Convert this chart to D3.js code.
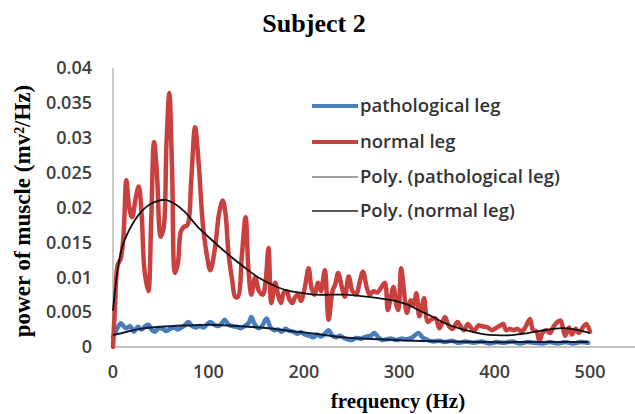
<!DOCTYPE html>
<html>
<head>
<meta charset="utf-8">
<script src="https://cdn.jsdelivr.net/npm/d3@7"></script>
<style>
  body { margin: 0; background: #fff; }
</style>
</head>
<body>
<div id="chart"></div>
<script>
// Frequency (Hz) and power of muscle for the normal leg
var normalFreq = [0, 2, 5, 8, 11, 14, 17, 20, 24, 27, 30, 33, 37, 40, 43, 46, 50, 53, 56, 59, 62, 65, 68, 71, 74, 78, 82, 86, 90, 94, 98, 102, 107, 111, 115, 118, 121, 125, 128, 131, 135, 139, 142, 145, 149, 153, 157, 160, 163, 166, 170, 173, 176, 179, 182, 185, 188, 191, 194, 197, 201, 205, 208, 211, 215, 218, 222, 226, 230, 233, 236, 240, 243, 247, 251, 255, 258, 262, 266, 269, 273, 277, 281, 285, 288, 291, 294, 297, 299, 302, 305, 308, 312, 315, 318, 321, 324, 326, 330, 334, 338, 342, 345, 348, 352, 356, 361, 365, 368, 372, 376, 379, 383, 386, 390, 393, 397, 401, 405, 409, 412, 416, 420, 424, 428, 432, 437, 440, 444, 447, 450, 454, 458, 462, 466, 469, 472, 474, 478, 481, 485, 488, 492, 496, 500];
var normalLeg = [0, 0.0055, 0.0118, 0.0126, 0.016, 0.0239, 0.02, 0.0186, 0.0215, 0.023, 0.019, 0.011, 0.008, 0.018, 0.0294, 0.025, 0.0158, 0.017, 0.029, 0.0364, 0.025, 0.0106, 0.012, 0.0165, 0.0172, 0.0175, 0.024, 0.0315, 0.026, 0.0178, 0.0135, 0.011, 0.0143, 0.019, 0.021, 0.019, 0.0135, 0.0095, 0.0072, 0.0072, 0.013, 0.0186, 0.011, 0.0075, 0.01, 0.008, 0.0075, 0.0095, 0.0142, 0.0063, 0.0092, 0.0075, 0.0063, 0.0078, 0.008, 0.0068, 0.0063, 0.0072, 0.0075, 0.0066, 0.0085, 0.0113, 0.0085, 0.0075, 0.0092, 0.008, 0.011, 0.0039, 0.008, 0.009, 0.0106, 0.0085, 0.0072, 0.0101, 0.008, 0.0075, 0.009, 0.0108, 0.0085, 0.0075, 0.008, 0.0078, 0.0085, 0.0092, 0.0053, 0.007, 0.0086, 0.006, 0.0053, 0.0113, 0.008, 0.0049, 0.0067, 0.006, 0.0077, 0.0044, 0.006, 0.007, 0.0036, 0.004, 0.0041, 0.0027, 0.0035, 0.0043, 0.003, 0.0026, 0.0036, 0.0028, 0.0024, 0.0033, 0.0026, 0.0024, 0.0031, 0.003, 0.0029, 0.0028, 0.0024, 0.0027, 0.003, 0.0033, 0.0024, 0.0026, 0.0024, 0.0026, 0.0022, 0.0028, 0.004, 0.0025, 0.0022, 0.0008, 0.002, 0.0024, 0.002, 0.003, 0.0036, 0.0038, 0.0025, 0.0016, 0.0028, 0.0018, 0.0026, 0.002, 0.0027, 0.0033, 0.0022];

// Frequency (Hz) and power of muscle for the pathological leg
var pathoFreq = [0, 2, 5, 8, 11, 14, 18, 22, 26, 30, 34, 37, 41, 44, 48, 52, 56, 60, 64, 68, 72, 76, 79, 83, 87, 91, 95, 99, 102, 106, 110, 114, 117, 121, 125, 130, 134, 138, 142, 145, 148, 152, 156, 161, 165, 169, 173, 177, 181, 185, 189, 193, 197, 201, 206, 210, 214, 218, 222, 226, 230, 234, 238, 242, 246, 250, 255, 260, 265, 270, 274, 278, 282, 287, 292, 297, 302, 308, 314, 320, 325, 330, 336, 342, 348, 355, 362, 370, 378, 386, 394, 402, 410, 418, 426, 434, 442, 450, 458, 466, 474, 482, 490, 498];
var pathoLeg = [0.0015, 0.002, 0.0028, 0.0034, 0.003, 0.0027, 0.003, 0.0022, 0.0029, 0.0025, 0.003, 0.0032, 0.0024, 0.0022, 0.0027, 0.0026, 0.0023, 0.0026, 0.0028, 0.0025, 0.0028, 0.0032, 0.0036, 0.003, 0.0028, 0.003, 0.0028, 0.0033, 0.0036, 0.0032, 0.003, 0.0034, 0.0039, 0.0032, 0.003, 0.0029, 0.0027, 0.003, 0.0034, 0.0043, 0.0034, 0.0027, 0.003, 0.0041, 0.0028, 0.0024, 0.0025, 0.0022, 0.0026, 0.0023, 0.0022, 0.0019, 0.0021, 0.0018, 0.0016, 0.0014, 0.0018, 0.0015, 0.0019, 0.0024, 0.0016, 0.0014, 0.0016, 0.0013, 0.0011, 0.001, 0.0013, 0.0012, 0.0015, 0.0016, 0.002, 0.0014, 0.001, 0.0011, 0.0012, 0.001, 0.0012, 0.0011, 0.0014, 0.002, 0.0013, 0.001, 0.0008, 0.0009, 0.0007, 0.0009, 0.0006, 0.0008, 0.0006, 0.0008, 0.0005, 0.0007, 0.0006, 0.0008, 0.0005, 0.0007, 0.0006, 0.0005, 0.0007, 0.0005, 0.0007, 0.0005, 0.0007, 0.0006];

// Polynomial trend lines
var polyNormalFreq = [0, 5, 10, 16, 22, 29, 36, 44, 55, 65, 75, 89, 100, 112, 124, 138, 152, 166, 180, 196, 212, 230, 245, 260, 278, 296, 310, 320, 334, 348, 362, 376, 390, 401, 418, 435, 452, 470, 485, 500];
var polyNormal = [0.0052, 0.0112, 0.0145, 0.0165, 0.018, 0.0193, 0.0202, 0.0208, 0.0211, 0.0205, 0.0194, 0.0172, 0.0158, 0.0143, 0.0129, 0.0114, 0.01, 0.009, 0.0082, 0.0078, 0.0075, 0.0075, 0.0075, 0.0073, 0.007, 0.0066, 0.006, 0.0053, 0.0044, 0.0034, 0.0027, 0.0022, 0.0018, 0.0017, 0.0017, 0.002, 0.0024, 0.0027, 0.0025, 0.002];
var polyPathoFreq = [0, 15, 29, 50, 79, 100, 121, 142, 163, 185, 205, 228, 250, 281, 315, 352, 390, 422, 460, 498];
var polyPatho = [0.0017, 0.0022, 0.0026, 0.0029, 0.0031, 0.0032, 0.0031, 0.0029, 0.0027, 0.0023, 0.002, 0.0016, 0.0013, 0.0011, 0.0009, 0.0008, 0.0007, 0.0007, 0.0007, 0.0007];

var xTicks = [0, 100, 200, 300, 400, 500];
var yTicks = [0, 0.005, 0.01, 0.015, 0.02, 0.025, 0.03, 0.035, 0.04];
var legendLabels = ["pathological leg", "normal leg", "Poly. (pathological leg)", "Poly. (normal leg)"];

var width = 635,
    height = 414;

var svg = d3.select("#chart")
  .append("svg")
    .attr("width", width)
    .attr("height", height);

// Scales
var x = d3.scaleLinear()
  .domain([0, 545])
  .range([113, 633]);
var y = d3.scaleLinear()
  .domain([0, 0.04])
  .range([347, 68]);

var serif = "Liberation Serif, Times New Roman, serif";
var sans = "Open Sans, Lato, sans-serif";

// Title
svg.append("text")
  .attr("x", 314)
  .attr("y", 32)
  .attr("text-anchor", "middle")
  .attr("font-family", serif)
  .attr("font-weight", "bold")
  .attr("font-size", "26px")
  .attr("fill", "#000")
  .text("Subject 2");

// Axis lines
svg.append("line")
  .attr("x1", x(0)).attr("x2", x(0))
  .attr("y1", y(0.04)).attr("y2", y(0))
  .attr("stroke", "#a6a6a6")
  .attr("stroke-width", 1.2);
svg.append("line")
  .attr("x1", x(0)).attr("x2", 635)
  .attr("y1", y(0)).attr("y2", y(0))
  .attr("stroke", "#b0b0b0")
  .attr("stroke-width", 1.6);

// Tick labels
svg.append("g")
  .selectAll("text")
  .data(yTicks)
  .enter()
  .append("text")
    .attr("x", 92)
    .attr("y", function(d) { return y(d); })
    .attr("dy", "0.35em")
    .attr("text-anchor", "end")
    .attr("font-family", sans)
    .attr("font-weight", 600)
    .attr("font-size", "18px")
    .attr("fill", "#404040")
    .text(function(d) { return d; });

svg.append("g")
  .selectAll("text")
  .data(xTicks)
  .enter()
  .append("text")
    .attr("x", function(d) { return x(d); })
    .attr("y", 378)
    .attr("text-anchor", "middle")
    .attr("font-family", sans)
    .attr("font-weight", 600)
    .attr("font-size", "18px")
    .attr("fill", "#404040")
    .text(function(d) { return d; });

// Axis titles
svg.append("text")
  .attr("transform", "translate(30,211) rotate(-90)")
  .attr("text-anchor", "middle")
  .attr("font-family", serif)
  .attr("font-weight", "bold")
  .attr("font-size", "23px")
  .attr("fill", "#000")
  .text("power of muscle (mv²/Hz)");

svg.append("text")
  .attr("x", 398)
  .attr("y", 408)
  .attr("text-anchor", "middle")
  .attr("font-family", serif)
  .attr("font-weight", "bold")
  .attr("font-size", "21px")
  .attr("fill", "#000")
  .text("frequency (Hz)");

// Line generator
function pts(fs, vs) {
  return fs.map(function(f, i) { return [f, vs[i]]; });
}
var line = d3.line()
  .x(function(d) { return x(d[0]); })
  .y(function(d) { return y(d[1]); })
  .curve(d3.curveCatmullRom.alpha(0.5));

// Data series
svg.append("path")
  .attr("d", line(pts(pathoFreq, pathoLeg)))
  .attr("fill", "none")
  .attr("stroke", "#4a7ebb")
  .attr("stroke-width", 4.5)
  .attr("stroke-linejoin", "round")
  .attr("stroke-linecap", "round");

svg.append("path")
  .attr("d", line(pts(normalFreq, normalLeg)))
  .attr("fill", "none")
  .attr("stroke", "#c9413f")
  .attr("stroke-width", 4.5)
  .attr("stroke-linejoin", "round")
  .attr("stroke-linecap", "round");

// Trend lines
svg.append("path")
  .attr("d", line(pts(polyPathoFreq, polyPatho)))
  .attr("fill", "none")
  .attr("stroke", "#101a33")
  .attr("stroke-width", 2);

svg.append("path")
  .attr("d", line(pts(polyNormalFreq, polyNormal)))
  .attr("fill", "none")
  .attr("stroke", "#111")
  .attr("stroke-width", 1.8);

// Legend
var legendStyle = [
  { color: "#4a7ebb", w: 4 },
  { color: "#c9413f", w: 4 },
  { color: "#7f7f7f", w: 1.3 },
  { color: "#222", w: 1.6 }
];
var legendY = [106, 142, 177, 211];

var legend = svg.append("g")
  .selectAll("g")
  .data(legendLabels)
  .enter()
  .append("g")
    .attr("transform", function(d, i) { return "translate(0," + legendY[i] + ")"; });

legend.append("line")
  .attr("x1", 312).attr("x2", 358)
  .attr("y1", 0).attr("y2", 0)
  .attr("stroke", function(d, i) { return legendStyle[i].color; })
  .attr("stroke-width", function(d, i) { return legendStyle[i].w; });

legend.append("text")
  .attr("x", 360)
  .attr("dy", "0.35em")
  .attr("font-family", sans)
  .attr("font-weight", 600)
  .attr("font-size", "18.5px")
  .attr("fill", "#333")
  .text(function(d) { return d; });
</script>
</body>
</html>
